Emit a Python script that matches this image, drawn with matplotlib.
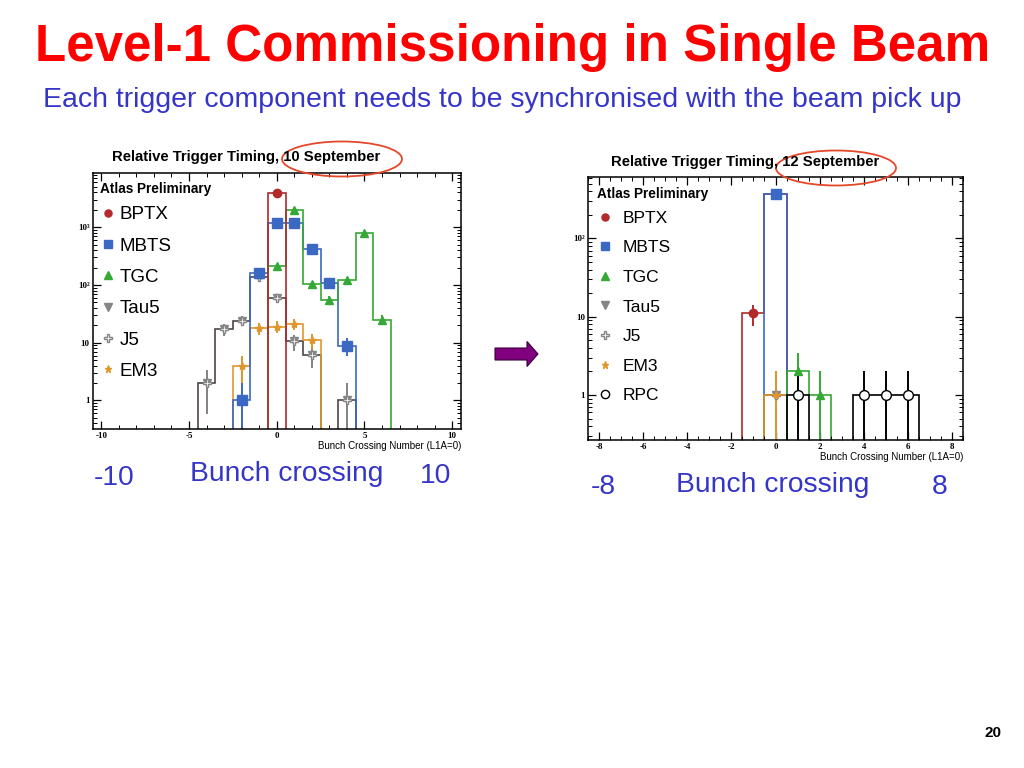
import numpy as np
import matplotlib
matplotlib.use("Agg")
import matplotlib.pyplot as plt
from matplotlib.lines import Line2D
from matplotlib.patches import Ellipse, FancyArrow
from matplotlib.ticker import MultipleLocator, LogLocator, FuncFormatter, NullFormatter

W, H = 1024, 768
FLOOR = 1e-3

# ---- 10 September (bunch crossing number -> counts) ----
sep10_bptx_bins = [0]
sep10_bptx = [3900]
sep10_mbts_bins = [-2, -1, 0, 1, 2, 3, 4]
sep10_mbts = [1, 160, 1170, 1170, 415, 107, 8.9]
sep10_tgc_bins = [0, 1, 2, 3, 4, 5, 6]
sep10_tgc = [214, 1950, 103, 56, 123, 785, 25]
sep10_tau5_bins = [-4, -3, -2, -1, 0, 1, 2, 3, 4]
sep10_tau5 = [2, 17, 24, 135, 59, 10.5, 6.2, 0, 1]
sep10_j5_bins = [-4, -3, -2, -1, 0, 1, 2, 3, 4]
sep10_j5 = [2, 17, 24, 135, 59, 10.5, 6.2, 0, 1]
sep10_em3_bins = [-2, -1, 0, 1, 2]
sep10_em3 = [4, 18, 19, 21, 11]

# ---- 12 September ----
sep12_bptx_bins = [-1, 0]
sep12_bptx = [11, 370]
sep12_mbts_bins = [0]
sep12_mbts = [370]
sep12_tgc_bins = [1, 2]
sep12_tgc = [2, 1]
sep12_tau5_bins = [0]
sep12_tau5 = [1]
sep12_j5_bins = [0]
sep12_j5 = [1]
sep12_em3_bins = [0]
sep12_em3 = [1]
sep12_rpc_bins = [1, 2, 3, 4, 5, 6]
sep12_rpc = [1, 0, 0, 1, 1, 1]

STYLES = {
    "BPTX": dict(line="#b22a2a", color="#b22a2a", marker="o", mfc="#b22a2a", ms=6),
    "MBTS": dict(line="#3b68c2", color="#3b68c2", marker="s", mfc="#3b68c2", ms=6.5),
    "TGC":  dict(line="#35a835", color="#35a835", marker="^", mfc="#35a835", ms=6),
    "Tau5": dict(line="#4f4545", color="#858585", marker="v", mfc="#858585", ms=6),
    "J5":   dict(line="#4f4545", color="#858585", marker="P", mfc="white", ms=6),
    "EM3":  dict(line="#e0962c", color="#e0962c", marker="*", mfc="#e0962c", ms=6),
    "RPC":  dict(line="black", color="black", marker="o", mfc="white", ms=7),
}

plt.rcParams["font.family"] = ["Liberation Sans", "DejaVu Sans"]
plt.rcParams["axes.unicode_minus"] = False


def fx(x):
    return x / W


def fy(y):
    return 1 - y / H


def draw_series(ax, bins, counts, name, hist=True):
    st = STYLES[name]
    bins = np.asarray(bins, float)
    counts = np.asarray(counts, float)
    edges = np.append(bins - 0.5, bins[-1] + 0.5)
    if hist:
        ax.stairs(np.where(counts > 0, counts, FLOOR), edges, baseline=FLOOR,
                  color=st["line"], lw=1.2)
    ok = counts > 0
    err = np.sqrt(counts[ok])
    ax.errorbar(bins[ok], counts[ok], yerr=err, fmt=st["marker"], color=st["color"],
                mfc=st["mfc"], mec=st["color"], ms=st["ms"], elinewidth=1.4, capsize=0)


def log_label(v, pos):
    labels = {1: "1", 10: "10", 100: "10\u00b2", 1000: "10\u00b3"}
    return labels.get(int(round(v)), "")


def style_axes(ax, xlim, ylim, major, minor):
    ax.set_yscale("log")
    ax.set_xlim(*xlim)
    ax.set_ylim(*ylim)
    ax.xaxis.set_major_locator(MultipleLocator(major))
    ax.xaxis.set_minor_locator(MultipleLocator(minor))
    ax.yaxis.set_major_locator(LogLocator(base=10))
    ax.yaxis.set_minor_locator(LogLocator(base=10, subs=np.arange(2, 10)))
    ax.yaxis.set_major_formatter(FuncFormatter(log_label))
    ax.yaxis.set_minor_formatter(NullFormatter())
    ax.tick_params(which="both", direction="in", top=True, right=True, pad=2)
    ax.tick_params(which="major", length=6, width=0.9)
    ax.tick_params(which="minor", length=3, width=0.7)
    for lab in ax.get_xticklabels() + ax.get_yticklabels():
        lab.set_fontfamily("Liberation Serif")
        lab.set_fontweight("bold")
        lab.set_fontsize(6.5)
    for sp in ax.spines.values():
        sp.set_linewidth(1.1)
    ax.set_xlabel("Bunch Crossing Number (L1A=0)", fontsize=7, loc="right", labelpad=1)


def add_legend(ax, names, fontsize, spacing, anchor, textpad, title_pos):
    ax.text(title_pos[0], title_pos[1], "Atlas Preliminary", transform=ax.transAxes,
            ha="left", va="center", fontsize=9.8, weight="bold")
    handles = []
    for n in names:
        st = STYLES[n]
        handles.append(Line2D([], [], ls="none", marker=st["marker"], color=st["color"],
                              mfc=st["mfc"], mec=st["color"], ms=st["ms"] * 0.85))
    ax.legend(handles, names, loc="upper left", bbox_to_anchor=anchor,
              frameon=False, fontsize=fontsize, labelspacing=spacing, handlelength=0.8,
              handletextpad=textpad, borderpad=0.0, borderaxespad=0.0)


fig = plt.figure(figsize=(W / 100, H / 100), dpi=100)

# ---- left panel ----
ax1 = fig.add_axes([fx(92.5), fy(429), fx(461) - fx(92.5), (429 - 173) / H])
draw_series(ax1, sep10_tau5_bins, sep10_tau5, "Tau5")
draw_series(ax1, sep10_j5_bins, sep10_j5, "J5", hist=False)
draw_series(ax1, sep10_em3_bins, sep10_em3, "EM3")
draw_series(ax1, sep10_mbts_bins, sep10_mbts, "MBTS")
draw_series(ax1, sep10_tgc_bins, sep10_tgc, "TGC")
draw_series(ax1, sep10_bptx_bins, sep10_bptx, "BPTX")
style_axes(ax1, (-10.5, 10.5), (0.32, 8700), 5, 1)
add_legend(ax1, ["BPTX", "MBTS", "TGC", "Tau5", "J5", "EM3"], 13.5, 0.76,
           (0.0217, 0.871), 0.2, (0.02, 0.9375))

# ---- right panel ----
ax2 = fig.add_axes([fx(588), fy(440), fx(963) - fx(588), (440 - 177) / H])
draw_series(ax2, sep12_bptx_bins, sep12_bptx, "BPTX")
draw_series(ax2, sep12_mbts_bins, sep12_mbts, "MBTS")
draw_series(ax2, sep12_tau5_bins, sep12_tau5, "Tau5")
draw_series(ax2, sep12_j5_bins, sep12_j5, "J5", hist=False)
draw_series(ax2, sep12_em3_bins, sep12_em3, "EM3")
draw_series(ax2, sep12_tgc_bins, sep12_tgc, "TGC")
draw_series(ax2, sep12_rpc_bins, sep12_rpc, "RPC")
style_axes(ax2, (-8.5, 8.5), (0.266, 610), 2, 0.5)
add_legend(ax2, ["BPTX", "MBTS", "TGC", "Tau5", "J5", "EM3", "RPC"], 12.5, 0.83,
           (0.0267, 0.872), 0.6, (0.024, 0.935))

# ---- panel titles with circled dates ----
fig.text(fx(246), fy(157), "Relative Trigger Timing, 10 September", ha="center", va="center",
         fontsize=10.7, weight="bold")
fig.text(fx(745), fy(162), "Relative Trigger Timing, 12 September", ha="center", va="center",
         fontsize=10.7, weight="bold")
fig.add_artist(Ellipse((fx(342), fy(159)), 120 / W, 35 / H, transform=fig.transFigure,
                       fill=False, ec="#e5472b", lw=1.3))
fig.add_artist(Ellipse((fx(836), fy(168)), 120 / W, 35 / H, transform=fig.transFigure,
                       fill=False, ec="#e5472b", lw=1.3))

# ---- slide text ----
blue = "#3535c8"
fig.text(fx(513), fy(47), "Level-1 Commissioning in Single Beam", ha="center", va="center",
         fontsize=36.8, weight="bold", color="#ff0000")
fig.text(fx(502), fy(100), "Each trigger component needs to be synchronised with the beam pick up",
         ha="center", va="center", fontsize=20.5, color=blue)
for x, y, s in [(114, 478, "-10"), (287, 474, "Bunch crossing"), (436, 476, "10"),
                (603, 487, "-8"), (773, 485, "Bunch crossing"), (940, 487, "8")]:
    fig.text(fx(x), fy(y), s, ha="center", va="center", fontsize=20.3, color=blue)
fig.text(fx(993), fy(733), "20", ha="center", va="center", fontsize=11, weight="bold")

fig.add_artist(FancyArrow(fx(495), fy(354), (538 - 495) / W, 0, width=12 / H,
                          head_width=25 / H, head_length=11 / W, length_includes_head=True,
                          transform=fig.transFigure, fc="#800080", ec="#3a003a", lw=0.8))

fig.savefig("out.png", dpi=100)
